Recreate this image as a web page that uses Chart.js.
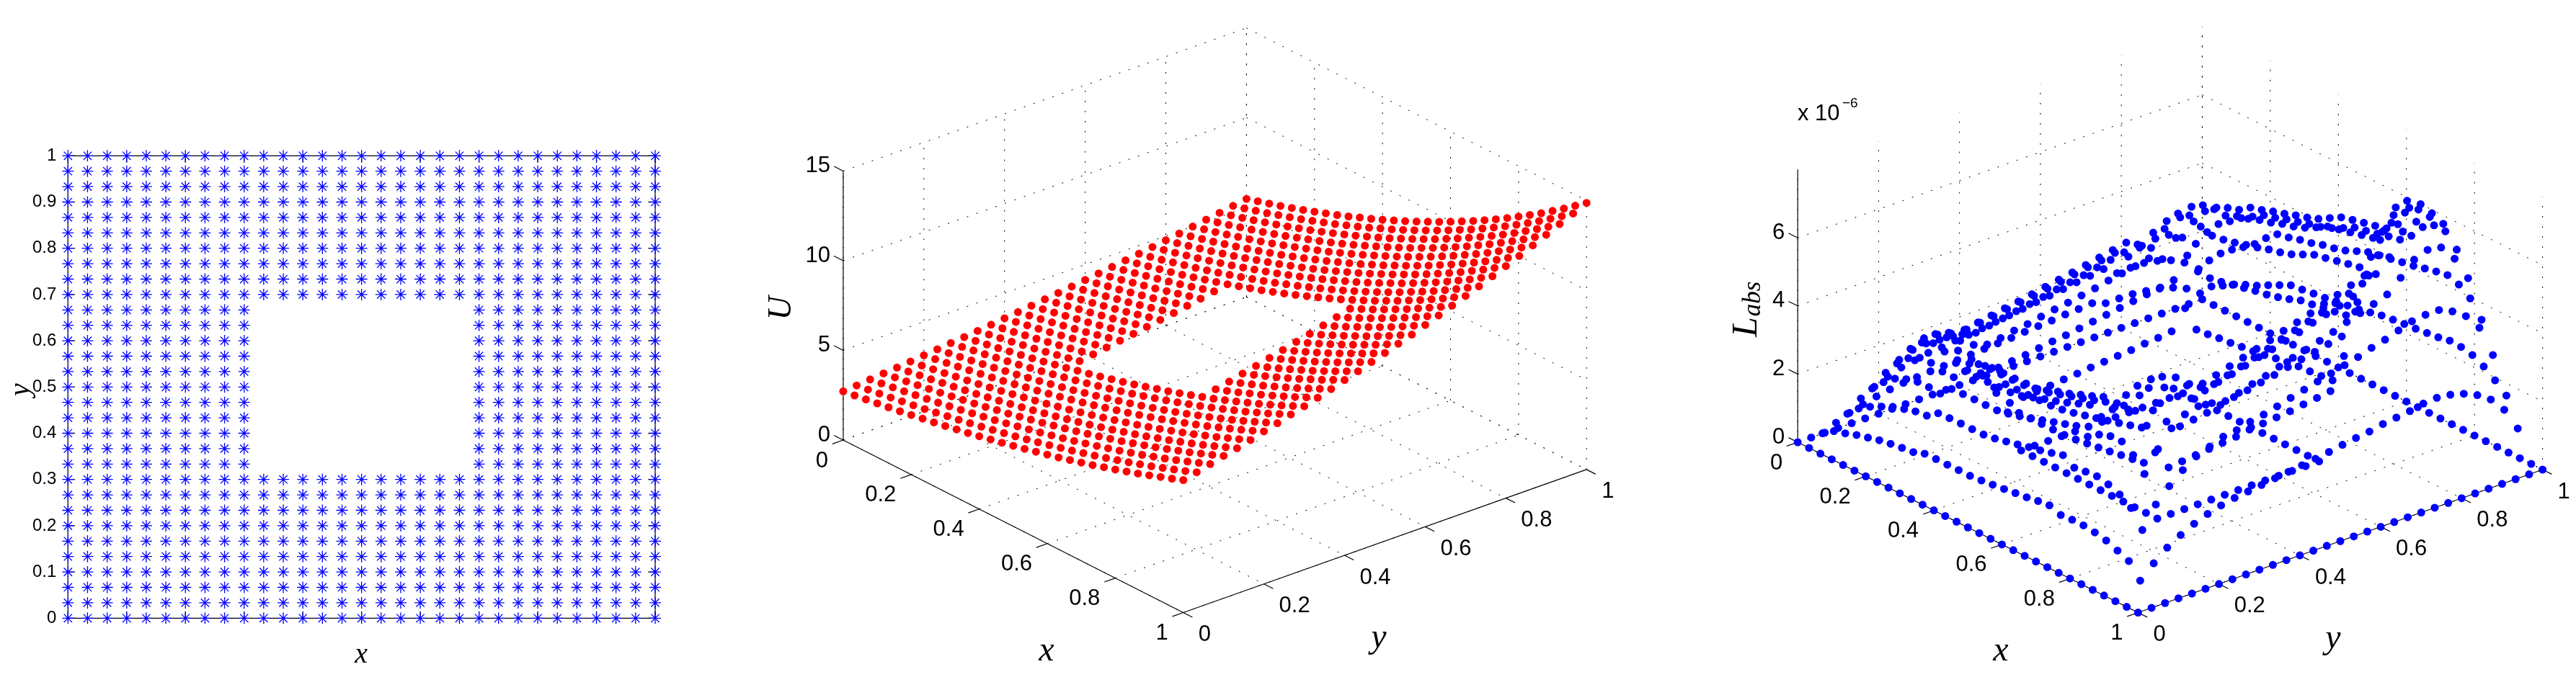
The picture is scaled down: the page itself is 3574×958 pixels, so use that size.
<!DOCTYPE html>
<html>
<head>
<meta charset="utf-8">
<title>Mesh, solution and absolute error</title>
<script src="https://cdn.jsdelivr.net/npm/chart.js@4"></script>
<style>
  html, body { margin: 0; padding: 0; background: #fff; }
  canvas { position: absolute; top: 0; }
</style>
</head>
<body>
<canvas id="mesh" width="1000" height="958" style="left:0"></canvas>
<canvas id="solution" width="1250" height="958" style="left:1040px"></canvas>
<canvas id="error" width="1194" height="958" style="left:2380px"></canvas>
<script>
const _ = null; // no node inside the hole

// node positions along x and along y
const meshValues = [0, 0.0333, 0.0667, 0.1, 0.1333, 0.1667, 0.2, 0.2333, 0.2667, 0.3, 0.3333, 0.3667, 0.4, 0.4333, 0.4667, 0.5, 0.5333, 0.5667, 0.6, 0.6333, 0.6667, 0.7, 0.7333, 0.7667, 0.8, 0.8333, 0.8667, 0.9, 0.9333, 0.9667, 1];

const meshTicks = [0, 0.1, 0.2, 0.3, 0.4, 0.5, 0.6, 0.7, 0.8, 0.9, 1];
const planeTicks = [0, 0.2, 0.4, 0.6, 0.8, 1];
const uTicks = [0, 5, 10, 15];
const labsTicks = [0, 2, 4, 6];

// U, one row per x node, one value per y node
const uRows = [
[2.72,2.78,2.85,2.92,2.98,3.05,3.13,3.20,3.28,3.35,3.43,3.51,3.60,3.68,3.77,3.86,3.95,4.04,4.14,4.24,4.34,4.44,4.54,4.65,4.76,4.87,4.99,5.11,5.23,5.35,5.47],
[2.81,2.87,2.95,3.02,3.08,3.15,3.24,3.31,3.39,3.46,3.55,3.63,3.72,3.81,3.90,3.99,4.08,4.18,4.28,4.38,4.49,4.59,4.69,4.81,4.92,5.04,5.16,5.28,5.41,5.53,5.66],
[2.91,2.97,3.05,3.12,3.19,3.26,3.35,3.42,3.51,3.58,3.67,3.75,3.85,3.93,4.03,4.13,4.22,4.32,4.43,4.53,4.64,4.75,4.85,4.97,5.09,5.21,5.33,5.46,5.59,5.72,5.85],
[3.01,3.07,3.15,3.23,3.29,3.37,3.46,3.54,3.62,3.70,3.79,3.88,3.98,4.07,4.17,4.27,4.36,4.46,4.57,4.69,4.80,4.91,5.02,5.14,5.26,5.38,5.51,5.65,5.78,5.91,6.04],
[3.11,3.18,3.26,3.34,3.41,3.49,3.58,3.66,3.75,3.83,3.92,4.01,4.11,4.21,4.31,4.41,4.51,4.62,4.73,4.85,4.96,5.07,5.19,5.31,5.44,5.57,5.70,5.84,5.98,6.12,6.25],
[3.21,3.28,3.37,3.45,3.52,3.60,3.70,3.78,3.87,3.96,4.05,4.15,4.25,4.35,4.45,4.56,4.66,4.77,4.89,5.01,5.13,5.24,5.36,5.49,5.62,5.75,5.89,6.03,6.18,6.32,6.46],
[3.32,3.39,3.48,3.57,3.64,3.72,3.82,3.91,4.00,4.09,4.19,4.29,4.40,4.49,4.60,4.71,4.82,4.93,5.05,5.18,5.30,5.42,5.54,5.68,5.81,5.95,6.09,6.24,6.39,6.53,6.68],
[3.44,3.51,3.60,3.69,3.76,3.85,3.95,4.04,4.14,4.23,4.33,4.43,4.55,4.65,4.76,4.88,4.99,5.10,5.23,5.36,5.48,5.61,5.73,5.87,6.01,6.15,6.30,6.45,6.61,6.76,6.91],
[3.55,3.63,3.72,3.81,3.89,3.98,4.09,4.18,4.28,4.38,4.48,4.58,4.70,4.81,4.92,5.04,5.16,5.28,5.41,5.54,5.67,5.80,5.93,6.07,6.22,6.36,6.52,6.67,6.83,6.99,7.14],
[3.67,3.75,3.85,3.94,4.02,4.12,4.23,4.32,4.43,4.52,4.63,4.74,4.86,4.97,5.09,5.21,5.33,5.45,5.59,5.72,5.86,5.99,6.13,6.28,6.43,6.57,6.74,6.90,7.06,7.22,7.38],
[3.80,3.88,3.98,4.08,4.16,4.26,4.37,4.47,4.58,4.68,_,_,_,_,_,_,_,_,_,_,_,6.20,6.34,6.49,6.64,6.80,6.97,7.13,7.30,7.47,7.64],
[3.92,4.01,4.11,4.21,4.30,4.40,4.52,4.62,4.73,4.83,_,_,_,_,_,_,_,_,_,_,_,6.41,6.55,6.71,6.87,7.03,7.20,7.37,7.55,7.72,7.89],
[4.06,4.15,4.25,4.36,4.45,4.55,4.67,4.77,4.89,5.00,_,_,_,_,_,_,_,_,_,_,_,6.62,6.77,6.94,7.10,7.27,7.44,7.62,7.80,7.98,8.16],
[4.20,4.29,4.40,4.51,4.60,4.71,4.83,4.94,5.06,5.17,_,_,_,_,_,_,_,_,_,_,_,6.85,7.01,7.17,7.34,7.51,7.70,7.88,8.07,8.26,8.44],
[4.34,4.43,4.55,4.66,4.75,4.86,4.99,5.10,5.23,5.34,_,_,_,_,_,_,_,_,_,_,_,7.08,7.24,7.42,7.59,7.77,7.96,8.15,8.34,8.53,8.72],
[4.49,4.58,4.70,4.82,4.91,5.03,5.16,5.28,5.41,5.52,_,_,_,_,_,_,_,_,_,_,_,7.32,7.49,7.67,7.85,8.03,8.23,8.43,8.62,8.82,9.02],
[4.64,4.74,4.86,4.98,5.08,5.20,5.34,5.46,5.59,5.71,_,_,_,_,_,_,_,_,_,_,_,7.57,7.74,7.93,8.12,8.30,8.51,8.71,8.92,9.12,9.33],
[4.80,4.90,5.02,5.15,5.25,5.38,5.52,5.64,5.78,5.91,_,_,_,_,_,_,_,_,_,_,_,7.83,8.00,8.20,8.39,8.59,8.80,9.01,9.22,9.43,9.64],
[4.96,5.07,5.19,5.32,5.43,5.56,5.70,5.83,5.98,6.10,_,_,_,_,_,_,_,_,_,_,_,8.09,8.27,8.47,8.67,8.87,9.09,9.31,9.53,9.75,9.97],
[5.12,5.24,5.37,5.50,5.61,5.75,5.90,6.03,6.18,6.31,_,_,_,_,_,_,_,_,_,_,_,8.36,8.55,8.76,8.97,9.18,9.40,9.63,9.85,10.08,10.31],
[5.30,5.42,5.55,5.69,5.81,5.94,6.10,6.23,6.39,6.53,_,_,_,_,_,_,_,_,_,_,_,8.65,8.84,9.06,9.27,9.49,9.72,9.95,10.19,10.42,10.66],
[5.48,5.60,5.74,5.88,6.00,6.14,6.30,6.44,6.61,6.75,6.91,7.07,7.25,7.41,7.59,7.77,7.96,8.14,8.34,8.54,8.74,8.94,9.14,9.37,9.59,9.81,10.05,10.29,10.53,10.77,11.02],
[5.66,5.79,5.93,6.08,6.20,6.35,6.52,6.66,6.83,6.97,7.14,7.31,7.50,7.66,7.85,8.04,8.22,8.41,8.62,8.83,9.04,9.24,9.45,9.68,9.91,10.14,10.39,10.64,10.89,11.14,11.39],
[5.86,5.99,6.14,6.29,6.42,6.57,6.74,6.89,7.06,7.21,7.38,7.56,7.75,7.92,8.12,8.31,8.50,8.70,8.91,9.13,9.34,9.56,9.77,10.01,10.25,10.49,10.74,11.00,11.26,11.52,11.78],
[6.05,6.19,6.34,6.50,6.63,6.79,6.97,7.12,7.30,7.46,7.64,7.81,8.01,8.19,8.39,8.59,8.79,8.99,9.22,9.44,9.66,9.88,10.11,10.35,10.60,10.84,11.11,11.38,11.64,11.91,12.18],
[6.26,6.40,6.56,6.72,6.86,7.02,7.20,7.36,7.55,7.71,7.89,8.08,8.28,8.47,8.67,8.88,9.09,9.30,9.53,9.76,9.99,10.22,10.45,10.70,10.95,11.21,11.48,11.76,12.03,12.31,12.59],
[6.47,6.61,6.78,6.95,7.09,7.26,7.45,7.61,7.80,7.97,8.16,8.35,8.56,8.75,8.97,9.18,9.40,9.61,9.85,10.09,10.32,10.56,10.80,11.06,11.32,11.59,11.87,12.16,12.44,12.73,13.01],
[6.69,6.84,7.01,7.18,7.33,7.50,7.70,7.87,8.07,8.24,8.44,8.63,8.86,9.05,9.27,9.50,9.72,9.94,10.18,10.43,10.68,10.92,11.17,11.44,11.71,11.98,12.28,12.57,12.87,13.16,13.46],
[6.92,7.07,7.25,7.43,7.58,7.76,7.96,8.14,8.34,8.52,8.72,8.93,9.15,9.36,9.59,9.82,10.04,10.27,10.53,10.78,11.04,11.29,11.55,11.82,12.10,12.38,12.69,12.99,13.30,13.61,13.91],
[7.15,7.31,7.50,7.68,7.84,8.02,8.23,8.42,8.63,8.81,9.02,9.23,9.47,9.68,9.92,10.15,10.39,10.63,10.89,11.15,11.41,11.68,11.94,12.23,12.52,12.81,13.12,13.44,13.75,14.07,14.39],
[7.39,7.56,7.75,7.94,8.10,8.29,8.51,8.70,8.92,9.11,9.32,9.54,9.78,10.00,10.25,10.49,10.74,10.98,11.25,11.52,11.80,12.07,12.34,12.64,12.94,13.24,13.56,13.89,14.22,14.54,14.87]
];

// L_abs in units of 1e-6, same layout as uRows
const labsRows = [
[0,0,0,0,0,0,0,0,0,0,0,0,0,0,0,0,0,0,0,0,0,0,0,0,0,0,0,0,0,0,0],
[0,.29,.46,.61,.72,.81,.88,.93,.96,.99,1.01,1.04,1.06,1.09,1.11,1.13,1.17,1.20,1.22,1.26,1.28,1.31,1.17,1.17,1.16,1.11,1.04,.93,.76,.48,0],
[0,.52,.89,1.20,1.40,1.56,1.69,1.76,1.84,1.86,1.92,1.95,2.00,2.05,2.10,2.15,2.21,2.26,2.31,2.37,2.42,2.48,2.22,2.24,2.24,2.16,2.04,1.83,1.43,.85,0],
[0,.62,1.21,1.66,1.98,2.22,2.37,2.42,2.39,2.35,2.41,2.47,2.52,2.59,2.65,2.70,2.77,2.83,2.91,2.98,3.04,3.12,2.87,3.05,3.12,3.09,2.87,2.55,1.92,1.04,0],
[0,.74,1.43,2.01,2.42,2.71,2.88,2.85,2.74,2.71,2.78,2.85,2.92,2.98,3.05,3.13,3.20,3.27,3.35,3.43,3.51,3.59,3.30,3.60,3.80,3.77,3.51,3.06,2.29,1.24,0],
[0,.83,1.60,2.28,2.74,3.06,3.17,3.07,2.88,2.79,2.86,2.93,3.00,3.07,3.14,3.22,3.29,3.36,3.45,3.53,3.61,3.70,3.46,3.88,4.19,4.25,3.98,3.46,2.57,1.40,0],
[0,.92,1.76,2.43,2.92,3.21,3.24,3.00,2.74,2.61,2.66,2.74,2.79,2.87,2.94,3.00,3.07,3.14,3.23,3.30,3.37,3.46,3.30,3.78,4.30,4.46,4.25,3.71,2.81,1.54,0],
[0,.98,1.86,2.52,2.94,3.13,3.02,2.62,2.29,2.10,2.15,2.19,2.25,2.31,2.35,2.41,2.47,2.53,2.59,2.65,2.71,2.77,2.85,3.43,4.14,4.51,4.41,3.97,3.07,1.72,0],
[0,1.03,1.96,2.53,2.85,2.96,2.80,2.31,1.66,1.23,1.26,1.29,1.32,1.36,1.39,1.43,1.46,1.49,1.52,1.57,1.60,1.65,2.19,3.20,4.04,4.49,4.52,4.18,3.41,1.89,0],
[0,1.07,2.00,2.51,2.85,2.91,2.69,2.13,1.26,0,0,0,0,0,0,0,0,0,0,0,0,0,1.73,3.10,4.09,4.64,4.75,4.39,3.69,2.05,0],
[0,1.19,2.24,2.81,3.19,3.26,3.01,2.39,1.41,0,_,_,_,_,_,_,_,_,_,_,_,0,1.76,3.16,4.17,4.73,4.85,4.48,3.76,2.09,0],
[0,1.20,2.26,2.83,3.20,3.28,3.02,2.40,1.41,0,_,_,_,_,_,_,_,_,_,_,_,0,1.81,3.24,4.27,4.86,4.97,4.60,3.86,2.14,0],
[0,1.20,2.27,2.84,3.21,3.29,3.03,2.41,1.42,0,_,_,_,_,_,_,_,_,_,_,_,0,1.84,3.31,4.36,4.95,5.07,4.69,3.93,2.18,0],
[0,1.21,2.27,2.84,3.23,3.30,3.05,2.42,1.42,0,_,_,_,_,_,_,_,_,_,_,_,0,1.89,3.39,4.47,5.08,5.19,4.80,4.04,2.25,0],
[0,1.21,2.28,2.85,3.24,3.31,3.06,2.43,1.43,0,_,_,_,_,_,_,_,_,_,_,_,0,1.93,3.45,4.55,5.17,5.29,4.88,4.11,2.29,0],
[0,1.24,2.33,2.92,3.30,3.38,3.12,2.48,1.46,0,_,_,_,_,_,_,_,_,_,_,_,0,1.98,3.54,4.66,5.30,5.42,5.01,4.21,2.34,0],
[0,1.28,2.41,3.01,3.42,3.49,3.23,2.55,1.51,0,_,_,_,_,_,_,_,_,_,_,_,0,2.05,3.65,4.82,5.48,5.61,5.18,4.36,2.42,0],
[0,1.32,2.49,3.12,3.54,3.62,3.34,2.64,1.56,0,_,_,_,_,_,_,_,_,_,_,_,0,2.11,3.78,4.98,5.67,5.80,5.36,4.50,2.50,0],
[0,1.37,2.58,3.23,3.65,3.73,3.45,2.73,1.61,0,_,_,_,_,_,_,_,_,_,_,_,0,2.15,3.83,5.05,5.75,5.89,5.43,4.57,2.54,0],
[0,1.41,2.65,3.34,3.77,3.86,3.56,2.82,1.67,0,_,_,_,_,_,_,_,_,_,_,_,0,2.17,3.89,5.13,5.83,5.97,5.51,4.63,2.58,0],
[0,1.47,2.74,3.45,3.91,3.99,3.68,2.92,1.72,0,_,_,_,_,_,_,_,_,_,_,_,0,2.20,3.95,5.21,5.92,6.05,5.60,4.70,2.61,0],
[0,1.51,2.84,3.56,4.04,4.13,3.81,3.02,1.78,0,0,0,0,0,0,0,0,0,0,0,0,0,2.24,4.01,5.28,6.00,6.14,5.67,4.76,2.65,0],
[0,1.39,2.64,3.41,3.85,4.00,3.79,3.12,2.25,1.67,1.71,1.75,1.79,1.83,1.87,1.94,1.98,2.02,2.06,2.12,2.17,2.23,3.12,4.56,5.75,6.39,6.43,5.95,4.85,2.69,0],
[0,1.42,2.69,3.64,4.24,4.52,4.37,3.79,3.32,3.04,3.10,3.16,3.25,3.34,3.40,3.49,3.57,3.66,3.75,3.83,3.92,4.00,4.59,5.51,6.65,7.23,7.08,6.37,4.93,2.76,0],
[0,1.42,2.72,3.76,4.52,4.96,5.01,4.63,4.23,4.03,4.12,4.23,4.32,4.43,4.54,4.63,4.74,4.85,4.99,5.10,5.21,5.34,5.85,6.72,7.31,7.59,7.35,6.59,4.99,2.74,0],
[0,1.38,2.65,3.77,4.53,5.06,5.25,5.09,4.76,4.63,4.74,4.86,4.97,5.09,5.20,5.34,5.45,5.57,5.71,5.84,5.98,6.12,6.58,7.39,7.55,7.50,7.25,6.58,4.88,2.67,0],
[0,1.31,2.52,3.54,4.26,4.78,5.07,5.02,4.83,4.78,4.90,5.02,5.14,5.26,5.38,5.52,5.64,5.76,5.90,6.04,6.19,6.33,6.69,7.30,7.45,7.45,7.11,6.21,4.64,2.50,0],
[0,1.18,2.29,3.15,3.74,4.21,4.48,4.58,4.53,4.45,4.55,4.67,4.77,4.90,5.02,5.12,5.24,5.36,5.51,5.63,5.76,5.90,6.25,6.64,6.79,6.72,6.25,5.54,4.18,2.26,0],
[0,1.04,1.81,2.42,2.82,3.15,3.41,3.56,3.71,3.76,3.87,3.94,4.04,4.15,4.25,4.35,4.45,4.55,4.65,4.78,4.88,5.01,5.14,5.19,5.19,5.01,4.73,4.25,3.31,1.98,0],
[0,.63,1.00,1.32,1.55,1.74,1.89,2.00,2.08,2.13,2.18,2.24,2.29,2.34,2.39,2.45,2.52,2.58,2.63,2.71,2.76,2.81,2.89,2.92,2.87,2.76,2.58,2.31,1.87,1.18,0],
[0,0,0,0,0,0,0,0,0,0,0,0,0,0,0,0,0,0,0,0,0,0,0,0,0,0,0,0,0,0,0]
];

Chart.defaults.font.family = "'Liberation Sans', Arial, sans-serif";
Chart.defaults.font.size = 24;
Chart.defaults.color = '#000';

const flatTitle = "italic 40px 'Liberation Serif', serif";
const viewTitle = "italic 48px 'Liberation Serif', serif";
const viewTick = "31px 'Liberation Sans', Arial, sans-serif";

// plain text on top of a chart; pos is in the chart's own scale values
const captions = {
  id: 'captions',
  afterDraw(chart, args, opts) {
    const ctx = chart.ctx;
    opts.items.forEach(function (t) {
      ctx.save();
      ctx.translate(chart.scales.x.getPixelForValue(t.x), chart.scales.y.getPixelForValue(t.y));
      if (t.rot) ctx.rotate(t.rot);
      ctx.font = t.font || viewTick;
      ctx.textAlign = t.align || 'center';
      ctx.textBaseline = 'middle';
      ctx.fillStyle = '#000';
      ctx.fillText(t.text, 0, 0);
      ctx.restore();
    });
  }
};

function lineSet(points, width, dash, order) {
  return {
    type: 'scatter', data: points, showLine: true, pointRadius: 0, borderColor: '#000',
    borderWidth: width, borderDash: dash || [], order: order, clip: false, tension: 0
  };
}

// ---------- flat mesh ----------
const meshPoints = [];
uRows.forEach(function (row, i) {
  row.forEach(function (v, j) {
    if (v !== null) meshPoints.push({ x: meshValues[i], y: meshValues[j] });
  });
});

const meshSets = [{
  type: 'scatter', data: meshPoints, pointStyle: 'star', pointRadius: 8, pointBorderWidth: 1.3,
  borderColor: '#0000ff', pointBorderColor: '#0000ff', backgroundColor: '#0000ff', order: 0, clip: false
}];
meshSets.push(lineSet([{ x: 0, y: 0 }, { x: 1, y: 0 }, { x: 1, y: 1 }, { x: 0, y: 1 }, { x: 0, y: 0 }], 1.2, null, 1));
meshTicks.forEach(function (t) {
  meshSets.push(lineSet([{ x: t, y: 0 }, { x: t, y: 0.015 }], 1.2, null, 1));
  meshSets.push(lineSet([{ x: t, y: 1 }, { x: t, y: 0.985 }], 1.2, null, 1));
  meshSets.push(lineSet([{ x: 0, y: t }, { x: 0.012, y: t }], 1.2, null, 1));
  meshSets.push(lineSet([{ x: 1, y: t }, { x: 0.988, y: t }], 1.2, null, 1));
});

new Chart(document.getElementById('mesh'), {
  data: { datasets: meshSets },
  options: {
    responsive: false, animation: false, devicePixelRatio: 1,
    layout: { autoPadding: false, padding: { left: 0, right: 91, top: 216.3, bottom: 99.7 } },
    plugins: {
      legend: { display: false }, tooltip: { enabled: false },
      captions: { items: [
        { text: 'x', x: 0.4995, y: -0.079, font: flatTitle },
        { text: 'y', x: -0.08, y: 0.494, font: flatTitle, rot: -Math.PI / 2 }
      ] }
    },
    scales: {
      x: {
        type: 'linear', min: 0, max: 1,
        afterFit(s) { s.height = 0; },
        grid: { display: false }, border: { display: false },
        ticks: { stepSize: 0.1, padding: 6, maxRotation: 0, autoSkip: false, callback: function (v) { return String(+v.toFixed(1)); } }
      },
      y: {
        type: 'linear', min: 0, max: 1,
        afterFit(s) { s.width = 94.3; },
        grid: { display: false }, border: { display: false },
        ticks: { stepSize: 0.1, padding: 8, autoSkip: false, callback: function (v) { return String(+v.toFixed(1)); } }
      }
    }
  },
  plugins: [captions]
});

// ---------- the two 3-d views ----------
function viewPoint(view, x, y, z) {
  return {
    x: view.origin[0] + x * view.xDir[0] + y * view.yDir[0],
    y: view.origin[1] + x * view.xDir[1] + y * view.yDir[1] - z * view.zPer
  };
}

function viewSets(view, rows, colour) {
  const sets = [];
  const pts = [];
  rows.forEach(function (row, i) {
    row.forEach(function (v, j) {
      if (v !== null) pts.push(viewPoint(view, meshValues[i], meshValues[j], v));
    });
  });
  sets.push({
    type: 'scatter', data: pts, pointStyle: 'circle', pointRadius: 5.5, pointBorderWidth: 0,
    backgroundColor: colour, borderColor: colour, order: 0, clip: false
  });

  function seg(a, b, width, dash, order) {
    sets.push(lineSet([viewPoint(view, a[0], a[1], a[2]), viewPoint(view, b[0], b[1], b[2])], width, dash, order));
  }
  const dots = [2, 12];
  const top = view.zTop;
  // floor and the two back walls
  planeTicks.forEach(function (t) {
    seg([t, 0, 0], [t, 1, 0], 1, dots, 2);
    seg([0, t, 0], [1, t, 0], 1, dots, 2);
    seg([0, t, 0], [0, t, top], 1, dots, 2);
    seg([t, 1, 0], [t, 1, top], 1, dots, 2);
  });
  view.zTicks.forEach(function (z) {
    seg([0, 0, z], [0, 1, z], 1, dots, 2);
    seg([0, 1, z], [1, 1, z], 1, dots, 2);
  });
  // solid axes and their ticks
  seg([0, 0, 0], [1, 0, 0], 1.2, null, 1);
  seg([1, 0, 0], [1, 1, 0], 1.2, null, 1);
  seg([0, 0, 0], [0, 0, top], 1.2, null, 1);
  planeTicks.forEach(function (t) {
    seg([t, 0, 0], [t, -0.027, 0], 1.2, null, 1);
    seg([1, t, 0], [1.027, t, 0], 1.2, null, 1);
  });
  view.zTicks.forEach(function (z) {
    seg([0, 0, z], [-0.027, 0, z], 1.2, null, 1);
  });
  return sets;
}

function viewLabels(view) {
  const items = [];
  planeTicks.forEach(function (t) {
    const a = viewPoint(view, t, 0, 0);
    items.push({ text: String(t), x: a.x - 21, y: a.y + 29, align: 'right' });
    const b = viewPoint(view, 1, t, 0);
    items.push({ text: String(t), x: b.x + 21, y: b.y + 31, align: 'left' });
  });
  view.zTicks.forEach(function (z) {
    const c = viewPoint(view, 0, 0, z);
    items.push({ text: String(z), x: c.x - 18, y: c.y - 7, align: 'right' });
  });
  return items.concat(view.captions);
}

function drawView(id, view, rows, colour) {
  const el = document.getElementById(id);
  new Chart(el, {
    data: { datasets: viewSets(view, rows, colour) },
    options: {
      responsive: false, animation: false, devicePixelRatio: 1,
      layout: { autoPadding: false, padding: 0 },
      plugins: { legend: { display: false }, tooltip: { enabled: false }, captions: { items: viewLabels(view) } },
      scales: {
        x: { type: 'linear', display: false, min: 0, max: el.width },
        y: { type: 'linear', display: false, min: 0, max: el.height, reverse: true }
      }
    },
    plugins: [captions]
  });
}

drawView('solution', {
  origin: [129.9, 611], xDir: [471.8, 239.5], yDir: [559.5, -198.6], zPer: 24.9,
  zTicks: uTicks, zTop: 15,
  captions: [
    { text: 'x', x: 412, y: 904, font: viewTitle },
    { text: 'y', x: 873, y: 886, font: viewTitle },
    { text: 'U', x: 45, y: 428, font: "italic 46px 'Liberation Serif', serif", rot: -Math.PI / 2 }
  ]
}, uRows, '#ff0000');

drawView('error', {
  origin: [114.2, 614], xDir: [472.2, 236.5], yDir: [561.2, -198.5], zPer: 47.3,
  zTicks: labsTicks, zTop: 8,
  captions: [
    { text: 'x', x: 396, y: 904, font: viewTitle },
    { text: 'y', x: 857, y: 887, font: viewTitle },
    { text: 'L', x: 44, y: 454, font: "italic 50px 'Liberation Serif', serif", rot: -Math.PI / 2 },
    { text: 'abs', x: 53, y: 415, font: "italic 35px 'Liberation Serif', serif", rot: -Math.PI / 2 },
    { text: 'x 10', x: 114, y: 158, font: viewTick, align: 'left' },
    { text: '−6', x: 176, y: 144, font: "19px 'Liberation Sans', Arial, sans-serif", align: 'left' }
  ]
}, labsRows, '#0000ff');
</script>
</body>
</html>
